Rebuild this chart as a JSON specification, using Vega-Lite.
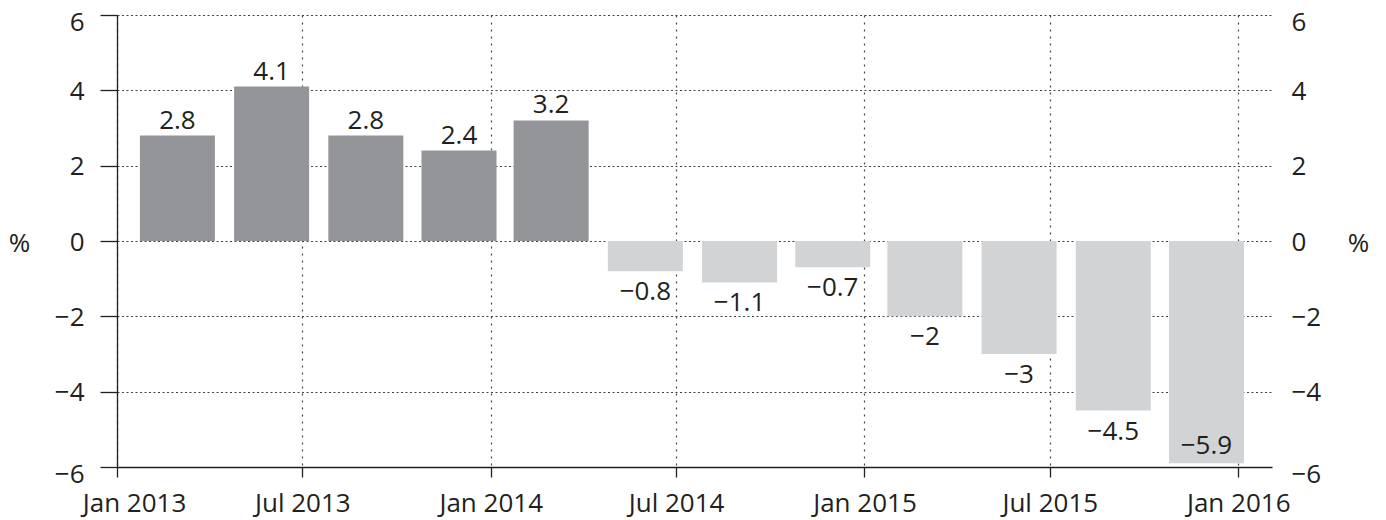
{
  "$schema": "https://vega.github.io/schema/vega-lite/v6.json",
  "width": 1155,
  "height": 452,
  "autosize": {"type": "none"},
  "padding": {"left": 117, "top": 15, "right": 114, "bottom": 53},
  "background": "white",
  "config": {
    "view": {"stroke": null},
    "font": "Open Sans",
    "axis": {"labelFont": "Open Sans", "labelFontSize": 26, "labelColor": "#231f20", "titleFont": "Open Sans", "titleFontSize": 26, "titleFontWeight": "normal", "titleColor": "#231f20", "domainColor": "#231f20", "tickColor": "#231f20", "domainWidth": 1.3, "tickWidth": 1.3}
  },
  "data": {
    "values": [
      {"date": "2013-03-01T00:00", "value": 2.8},
      {"date": "2013-06-01T00:00", "value": 4.1},
      {"date": "2013-09-01T00:00", "value": 2.8},
      {"date": "2013-12-01T00:00", "value": 2.4},
      {"date": "2014-03-01T00:00", "value": 3.2},
      {"date": "2014-06-01T00:00", "value": -0.8},
      {"date": "2014-09-01T00:00", "value": -1.1},
      {"date": "2014-12-01T00:00", "value": -0.7},
      {"date": "2015-03-01T00:00", "value": -2},
      {"date": "2015-06-01T00:00", "value": -3},
      {"date": "2015-09-01T00:00", "value": -4.5},
      {"date": "2015-12-01T00:00", "value": -5.9}
    ]
  },
  "encoding": {
    "x": {
      "field": "date",
      "type": "temporal",
      "scale": {"domain": [{"year": 2013, "month": 1, "date": 1}, {"year": 2016, "month": 2, "date": 3}], "padding": 0, "nice": false},
      "axis": {
        "title": null,
        "values": [
          {"year": 2013, "month": 1, "date": 1},
          {"year": 2013, "month": 7, "date": 1},
          {"year": 2014, "month": 1, "date": 1},
          {"year": 2014, "month": 7, "date": 1},
          {"year": 2015, "month": 1, "date": 1},
          {"year": 2015, "month": 7, "date": 1},
          {"year": 2016, "month": 1, "date": 1}
        ],
        "format": "%b %Y",
        "tickSize": 10,
        "labelPadding": 34,
        "labelBaseline": "alphabetic",
        "labelFlush": false,
        "labelOverlap": false,
        "labelOffset": {"condition": {"test": "year(datum.value) == 2013 && month(datum.value) == 0", "value": 17}, "value": 0},
        "grid": true,
        "gridDash": [2, 5],
        "gridColor": "#444444",
        "gridWidth": 1.2
      }
    }
  },
  "layer": [
    {
      "mark": {"type": "bar", "size": 75},
      "encoding": {
        "y": {
          "field": "value",
          "type": "quantitative",
          "stack": null,
          "scale": {"domain": [-6, 6], "nice": false},
          "axis": {
            "orient": "left",
            "values": [-6, -4, -2, 0, 2, 4, 6],
            "title": "%",
            "titleAngle": 0,
            "titleX": -98,
            "titleY": 228,
            "titleAlign": "center",
            "titleBaseline": "middle",
            "tickSize": 17,
            "labelPadding": 16,
            "labelOffset": {"condition": {"test": "abs(datum.value) == 6", "value": 7}, "value": 1},
            "grid": true,
            "gridDash": [2, 2.5],
            "gridColor": "#444444",
            "gridWidth": 1.2
          }
        },
        "color": {"condition": {"test": "datum.value > 0", "value": "#939598"}, "value": "#d1d3d4"}
      }
    },
    {
      "transform": [{"filter": "datum.value > 0"}],
      "mark": {"type": "text", "baseline": "alphabetic", "align": "center", "dy": -7, "fontSize": 26, "font": "Open Sans", "color": "#231f20"},
      "encoding": {
        "y": {"field": "value", "type": "quantitative", "axis": null},
        "text": {"field": "value", "type": "quantitative", "format": ".2~g"}
      }
    },
    {
      "transform": [{"filter": "datum.value < 0 && datum.value >= -5"}],
      "mark": {"type": "text", "baseline": "alphabetic", "align": "center", "dy": 29, "fontSize": 26, "font": "Open Sans", "color": "#231f20"},
      "encoding": {
        "y": {"field": "value", "type": "quantitative", "axis": null},
        "text": {"field": "value", "type": "quantitative", "format": ".2~g"}
      }
    },
    {
      "transform": [{"filter": "datum.value < -5"}],
      "mark": {"type": "text", "baseline": "alphabetic", "align": "center", "dy": -9, "fontSize": 26, "font": "Open Sans", "color": "#231f20"},
      "encoding": {
        "y": {"field": "value", "type": "quantitative", "axis": null},
        "text": {"field": "value", "type": "quantitative", "format": ".2~g"}
      }
    },
    {
      "mark": {"type": "point", "opacity": 0},
      "encoding": {
        "y": {
          "field": "value",
          "type": "quantitative",
          "axis": {
            "orient": "right",
            "values": [-6, -4, -2, 0, 2, 4, 6],
            "title": "%",
            "titleAngle": 0,
            "titleX": 86,
            "titleY": 228,
            "titleAlign": "center",
            "titleBaseline": "middle",
            "ticks": false,
            "tickSize": 0,
            "domain": false,
            "labelPadding": 19,
            "labelOffset": {"condition": {"test": "abs(datum.value) == 6", "value": 7}, "value": 1},
            "grid": false
          }
        }
      }
    }
  ],
  "resolve": {"axis": {"y": "independent"}}
}
